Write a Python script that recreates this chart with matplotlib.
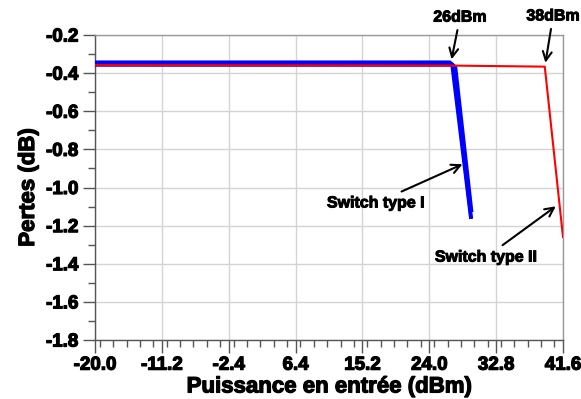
import matplotlib
matplotlib.use("Agg")
import matplotlib.pyplot as plt
import matplotlib.patheffects as pe
from matplotlib.ticker import MultipleLocator, FormatStrFormatter

# Data (Switch type I: a bundle of three close curves)
type1a_x = [-20.0, 26.7, 27.0, 29.45]
type1a_y = [-0.343, -0.343, -0.355, -1.155]
type1b_x = [-20.0, 26.9, 27.2, 29.5]
type1b_y = [-0.350, -0.350, -0.362, -1.155]
type1c_x = [-20.0, 27.1, 27.45, 29.55]
type1c_y = [-0.357, -0.357, -0.370, -1.12]
type2_x = [-20.0, 26.0, 39.2, 41.6]
type2_y = [-0.358, -0.360, -0.366, -1.26]

x_ticks = [-20.0, -11.2, -2.4, 6.4, 15.2, 24.0, 32.8, 41.6]
y_ticks = [-0.2, -0.4, -0.6, -0.8, -1.0, -1.2, -1.4, -1.6, -1.8]

plt.rcParams['font.family'] = ['Liberation Sans', 'DejaVu Sans']
plt.rcParams['font.weight'] = 'bold'

heavy = [pe.withStroke(linewidth=0.9, foreground='black')]

fig = plt.figure(figsize=(5.81, 3.99), dpi=100)
ax = fig.add_axes([95/581, 1 - 340/399, 468/581, 305/399])

for cx, cy in [(type1a_x, type1a_y), (type1b_x, type1b_y), (type1c_x, type1c_y)]:
    ax.plot(cx, cy, color='#0000ff', lw=2.6, zorder=3)
ax.plot(type2_x, type2_y, color='#ff0000', lw=1.5, zorder=4)

ax.set_xlim(-20, 41.6)
ax.set_ylim(-1.8, -0.2)
ax.set_xticks(x_ticks)
ax.set_yticks(y_ticks)
ax.xaxis.set_minor_locator(MultipleLocator(1.76))
ax.yaxis.set_minor_locator(MultipleLocator(0.1))
ax.xaxis.set_major_formatter(FormatStrFormatter('%.1f'))
ax.yaxis.set_major_formatter(FormatStrFormatter('%.1f'))
ax.tick_params(axis='both', which='major', length=9, width=1, color='#555555',
               labelsize=13.5, pad=3)
ax.tick_params(axis='both', which='minor', length=5, width=1, color='#555555')
for lab in ax.get_xticklabels() + ax.get_yticklabels():
    lab.set_fontweight('bold')
    lab.set_path_effects(heavy)
ax.grid(True, which='major', color='#d4d4d4', lw=1)
ax.set_axisbelow(True)
for s in ax.spines.values():
    s.set_color('#999999')
    s.set_linewidth(1)
ax.spines['left'].set_color('#555555')
ax.spines['bottom'].set_color('#555555')

xl = ax.set_xlabel('Puissance en entrée (dBm)', fontsize=16, fontweight='bold', labelpad=2)
yl = ax.set_ylabel('Pertes (dB)', fontsize=16, fontweight='bold', labelpad=5)
xl.set_path_effects(heavy)
yl.set_path_effects(heavy)

arrow = dict(arrowstyle='->', color='black', lw=1.5, mutation_scale=16)
notes = [
    ('26dBm', (26.86, -0.342), (28.05, -0.106)),
    ('38dBm', (39.23, -0.360), (40.3, -0.100)),
    ('Switch type I', (28.7, -0.872), (17.0, -1.081)),
    ('Switch type II', (40.95, -1.09), (31.5, -1.365)),
]
for txt, xy, xyt in notes:
    t = ax.annotate(txt, xy=xy, xytext=xyt, ha='center', va='center',
                    fontsize=11.5, fontweight='bold', arrowprops=arrow,
                    annotation_clip=False)
    t.set_path_effects([pe.withStroke(linewidth=0.7, foreground='black')])

fig.savefig('out.png', dpi=100)
